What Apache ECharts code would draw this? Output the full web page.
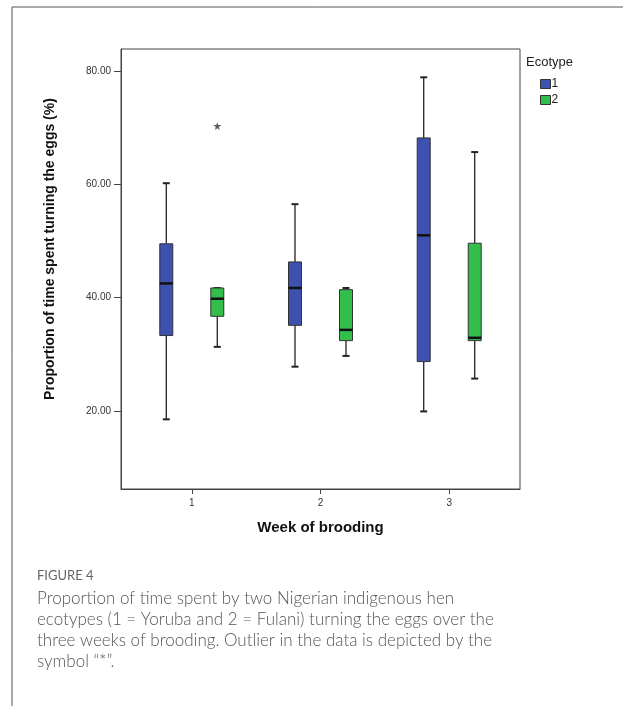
<!DOCTYPE html>
<html>
<head>
<meta charset="utf-8">
<script src="https://cdn.jsdelivr.net/npm/echarts@6/dist/echarts.min.js"></script>
<style>
  html, body { margin: 0; padding: 0; background: #fff; }
  #chart { width: 623px; height: 706px; }
</style>
</head>
<body>
<div id="chart"></div>
<script>
// week of brooding
var weeks = [1, 2, 3];
var xTicks = [1, 2, 3];
var yTicks = [20, 40, 60, 80];

// [min, Q1, median, Q3, max] per week
var yoruba = [
  [18.5, 33.3, 42.5, 49.5, 60.2],
  [27.8, 35.1, 41.7, 46.3, 56.5],
  [19.9, 28.7, 51.0, 68.2, 78.9]
];
var fulani = [
  [31.3, 36.7, 39.8, 41.7, 41.7],
  [29.7, 32.4, 34.3, 41.4, 41.7],
  [25.7, 32.4, 32.9, 49.6, 65.7]
];
// outlier (week, value) for ecotype 2
var fulaniOutliers = [[1, 70.3]];

var font = "'Liberation Sans', Arial, sans-serif";

function boxData(arr) {
  return arr.map(function (d, i) {
    return [weeks[i]].concat(d);
  });
}

function makeRender(offset, color) {
  return function (params, api) {
    var wk = api.value(0);
    var x = api.coord([wk, 0])[0] + offset;
    var yMin = api.coord([wk, api.value(1)])[1];
    var yQ1 = api.coord([wk, api.value(2)])[1];
    var yMed = api.coord([wk, api.value(3)])[1];
    var yQ3 = api.coord([wk, api.value(4)])[1];
    var yMax = api.coord([wk, api.value(5)])[1];
    var bw = 13, cw = 7;
    var lineStyle = { stroke: '#222', lineWidth: 1.3 };
    return {
      type: 'group',
      children: [
        { type: 'line', shape: { x1: x, y1: yMin, x2: x, y2: yQ1 }, style: lineStyle },
        { type: 'line', shape: { x1: x, y1: yQ3, x2: x, y2: yMax }, style: lineStyle },
        { type: 'line', shape: { x1: x - cw / 2, y1: yMin, x2: x + cw / 2, y2: yMin }, style: { stroke: '#222', lineWidth: 2 } },
        { type: 'line', shape: { x1: x - cw / 2, y1: yMax, x2: x + cw / 2, y2: yMax }, style: { stroke: '#222', lineWidth: 2 } },
        { type: 'rect', shape: { x: x - bw / 2, y: yQ3, width: bw, height: yQ1 - yQ3 },
          style: { fill: color, stroke: '#333', lineWidth: 1 } },
        { type: 'line', shape: { x1: x - bw / 2, y1: yMed, x2: x + bw / 2, y2: yMed }, style: { stroke: '#111', lineWidth: 2.5 } }
      ]
    };
  };
}

var chart = echarts.init(document.getElementById('chart'));

var option = {
  backgroundColor: '#fff',
  animation: false,
  title: {
    text: 'Ecotype',
    left: 526,
    top: 56,
    padding: 0,
    textStyle: { fontFamily: font, fontSize: 13, fontWeight: 'normal', color: '#222' }
  },
  legend: {
    orient: 'vertical',
    left: 540,
    top: 78,
    padding: 0,
    itemWidth: 10,
    itemHeight: 9,
    itemGap: 4,
    icon: 'rect',
    selectedMode: false,
    data: [
      { name: '1', itemStyle: { color: '#3d52b0', borderColor: '#333', borderWidth: 1 } },
      { name: '2', itemStyle: { color: '#33bd4b', borderColor: '#333', borderWidth: 1 } }
    ],
    textStyle: { fontFamily: font, fontSize: 12, color: '#222', padding: [0, 0, 0, -4] }
  },
  grid: {
    left: 121,
    top: 49,
    width: 399,
    height: 440,
    show: true,
    borderColor: '#444',
    borderWidth: 1,
    containLabel: false
  },
  xAxis: {
    type: 'value',
    min: 0.45,
    max: 3.55,
    name: 'Week of brooding',
    nameLocation: 'middle',
    nameGap: 31,
    nameTextStyle: { fontFamily: font, fontSize: 15, fontWeight: 'bold', color: '#111' },
    splitLine: { show: false },
    axisLine: { show: true, lineStyle: { color: '#444', width: 1 } },
    axisTick: { show: true, customValues: xTicks, length: 5, lineStyle: { color: '#444' } },
    axisLabel: { customValues: xTicks, margin: 9, fontFamily: font, fontSize: 10, color: '#333' }
  },
  yAxis: {
    type: 'value',
    min: 6.2,
    max: 83.9,
    name: 'Proportion of time spent turning the eggs (%)',
    nameLocation: 'middle',
    nameGap: 64,
    nameTextStyle: { fontFamily: font, fontSize: 14, fontWeight: 'bold', color: '#111', padding: [0, 0, 0, 40] },
    splitLine: { show: false },
    axisLine: { show: true, lineStyle: { color: '#444', width: 1 } },
    axisTick: { show: true, customValues: yTicks, length: 7, lineStyle: { color: '#444' } },
    axisLabel: {
      customValues: yTicks,
      margin: 10,
      fontFamily: font,
      fontSize: 10,
      color: '#333',
      formatter: function (v) { return v.toFixed(2); }
    }
  },
  series: [
    {
      name: '1',
      type: 'custom',
      itemStyle: { color: '#3d52b0' },
      renderItem: makeRender(-25.5, '#3d52b0'),
      encode: { x: 0, y: [1, 2, 3, 4, 5] },
      data: boxData(yoruba)
    },
    {
      name: '2',
      type: 'custom',
      itemStyle: { color: '#33bd4b' },
      renderItem: makeRender(25.5, '#33bd4b'),
      encode: { x: 0, y: [1, 2, 3, 4, 5] },
      data: boxData(fulani)
    },
    {
      name: 'outlier',
      type: 'scatter',
      symbol: 'path://M50,0 L61,35 L98,35 L68,57 L79,91 L50,70 L21,91 L32,57 L2,35 L39,35 Z',
      symbolSize: 8,
      symbolOffset: [25.5, 0],
      itemStyle: { color: '#333' },
      data: fulaniOutliers
    }
  ],
  graphic: [
    { type: 'line', shape: { x1: 12, y1: 7, x2: 623, y2: 7 }, style: { stroke: '#555', lineWidth: 1 } },
    { type: 'line', shape: { x1: 12, y1: 7, x2: 12, y2: 706 }, style: { stroke: '#555', lineWidth: 1 } },
    { type: 'text', left: 37, top: 569, style: { text: 'FIGURE 4', font: '13px Lato, "Open Sans", sans-serif', fill: '#666' } },
    { type: 'text', left: 37, top: 590, style: { text: 'Proportion of time spent by two Nigerian indigenous hen', font: '300 17px Lato, "Open Sans", sans-serif', fill: '#555' } },
    { type: 'text', left: 37, top: 611, style: { text: 'ecotypes (1 = Yoruba and 2 = Fulani) turning the eggs over the', font: '300 17px Lato, "Open Sans", sans-serif', fill: '#555' } },
    { type: 'text', left: 37, top: 632, style: { text: 'three weeks of brooding. Outlier in the data is depicted by the', font: '300 17px Lato, "Open Sans", sans-serif', fill: '#555' } },
    { type: 'text', left: 37, top: 653, style: { text: 'symbol \u201c*\u201d.', font: '300 17px Lato, "Open Sans", sans-serif', fill: '#555' } }
  ]
};

chart.setOption(option);
</script>
</body>
</html>
